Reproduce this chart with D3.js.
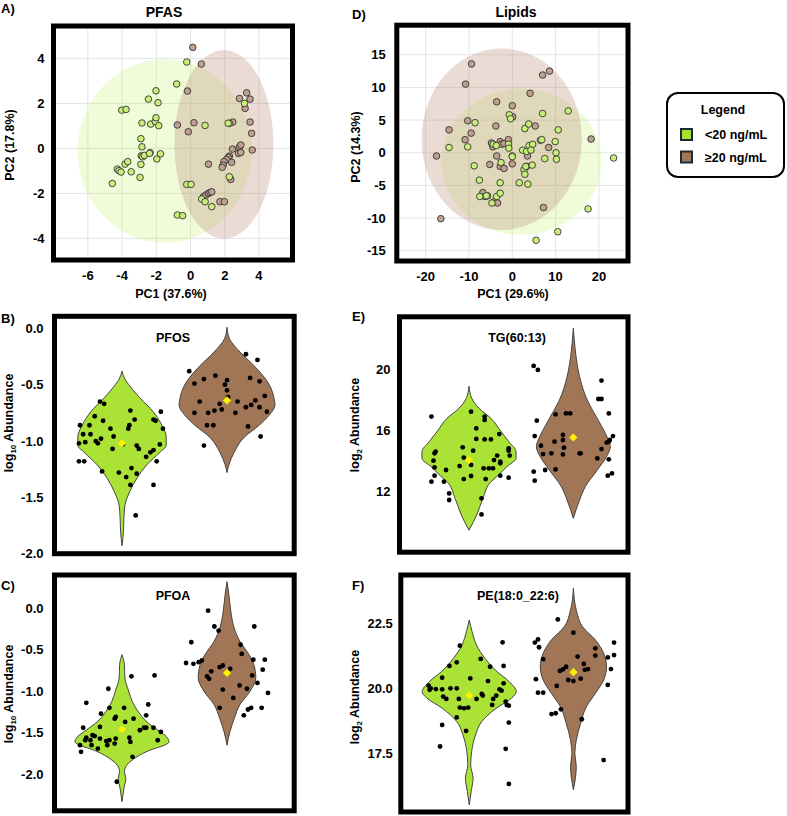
<!DOCTYPE html>
<html>
<head>
<meta charset="utf-8">
<script src="https://cdn.jsdelivr.net/npm/d3@7"></script>
<style>
body { margin: 0; background: #fff; }
text { font-family: "Liberation Sans", Arial, sans-serif; font-weight: bold; fill: #000; }
</style>
</head>
<body>
<div id="chart"></div>
<script>

// ---------- PCA data ----------
var groups = ['<20 ng/mL', '\u226520 ng/mL'];

var pfasTicksX = [-6, -4, -2, 0, 2, 4];
var pfasTicksY = [-4, -2, 0, 2, 4];
var pfasLow = [[-4.57,-1.56],[-4.28,-0.92],[-4.18,-0.99],[-4.06,-1.05],[-3.83,-0.70],[-3.67,-0.59],[-3.47,-1.04],
    [-4.02,1.70],[-3.77,1.73],[-2.95,-1.29],[-2.90,-0.71],[-2.90,0.43],[-2.84,0.07],[-2.88,-0.33],[-2.80,-0.37],
    [-2.70,-0.31],[-2.84,1.13],[-2.46,2.19],[-2.36,-0.19],[-2.33,1.08],[-2.40,-0.22],[-2.06,1.19],[-2.02,1.36],
    [-2.02,2.56],[-1.97,-0.47],[-1.90,2.03],[-1.86,1.01],[-1.76,-0.24],[-0.81,2.86],[-0.77,-2.96],[-0.46,-2.99],
    [-0.22,3.84],[-0.22,-1.60],[0.03,-1.60],[0.85,1.02],[0.65,-2.25],[0.85,-2.37],[1.24,-2.59],[2.27,1.11],
    [3.15,2.00],[2.27,-1.26],[2.20,1.12]];
var pfasHigh = [[0.13,4.49],[0.63,3.75],[-0.18,2.55],[-0.77,1.04],[-0.13,0.74],[0.20,1.14],[1.05,-0.70],[2.47,1.17],
    [2.86,2.22],[3.28,2.47],[3.48,2.19],[3.19,1.78],[3.48,1.17],[3.57,0.67],[3.61,-0.07],[2.45,-0.03],[2.86,0.07],
    [2.94,0.15],[2.80,-0.22],[2.94,-0.18],[2.27,-0.34],[2.21,-0.40],[2.11,-0.49],[1.95,-0.59],[1.91,-0.74],
    [1.85,-0.84],[2.40,-0.62],[2.35,-1.38],[1.72,-2.37],[1.98,-2.37],[0.75,-2.15],[0.90,-2.07],[1.04,-2.00],
    [1.14,-1.96],[1.24,-1.93]];
// ellipses: [cx, cy, rx, ry]
var pfasEllipseLow = [-1.51, -0.12, 5.09, 4.08];
var pfasEllipseHigh = [1.95, 0.18, 2.89, 4.19];

var lipidTicksX = [-20, -10, 0, 10, 20];
var lipidTicksY = [-15, -10, -5, 0, 5, 10, 15];
var lipidLow = [[-14.6,0.8],[-10.3,0.9],[-8.6,4.6],[-8.8,-2.0],[-7.6,-4.2],[-7.5,-6.7],[-5.7,-6.6],[-3.6,-6.7],
    [-2.8,-6.2],[-2.8,-4.6],[-4.4,1.3],[-0.9,1.3],[-0.7,5.8],[-0.4,5.2],[0.0,-0.6],[1.6,-4.6],[2.4,0.4],[2.7,-2.6],
    [2.9,-3.3],[3.1,-2.1],[3.3,0.2],[3.6,-4.8],[2.9,3.7],[3.8,4.4],[3.9,1.1],[4.6,-1.9],[4.7,1.3],[4.3,0.4],
    [6.5,1.9],[6.8,2.0],[7.0,6.0],[7.5,-0.9],[9.9,1.7],[10.1,0.0],[10.2,-1.0],[10.6,3.5],[12.9,6.4],[17.5,-8.6],
    [10.5,-12.1],[5.5,-13.4],[23.4,-0.8],[-0.8,0.7],[-2.6,-1.5],[-3.7,1.1],[-4.7,-7.7],[-6.0,-6.6]];
var lipidHigh = [[-17.5,-0.5],[-16.5,-10.1],[-14.6,3.5],[-10.8,10.5],[-9.4,13.6],[-10.9,2.0],[-9.5,3.0],[-10.3,4.9],
    [-3.6,7.8],[-3.8,4.1],[-3.6,-0.5],[-5.2,-1.8],[-4.8,1.5],[-4.5,0.9],[-2.8,1.7],[-2.5,1.3],[-1.9,1.4],[-4.2,-7.5],
    [-3.4,-7.7],[-6.8,-6.1],[-6.3,-6.7],[-2.8,-2.1],[-1.9,-2.4],[0.0,7.2],[0.1,5.5],[0.0,-1.7],[0.0,-0.5],[3.5,-0.5],
    [4.1,9.1],[5.3,4.1],[7.0,11.9],[8.6,12.5],[8.4,0.8],[7.2,-8.4],[18.2,2.1],[3.3,-2.1],[-0.9,2.0]];
var lipidEllipseLow = [2.08, -1.38, 18.5, 11.2];
var lipidEllipseHigh = [-2.45, 2.07, 18.5, 13.9];

// ---------- violin data ----------
// profiles: [value, relative density]; points: [group position with jitter, value]; means: [value low, value high]
var pfosTicks = [0.0, -0.5, -1.0, -1.5, -2.0];
var pfosProfileLow = [[-0.38,0],[-0.45,0.06],[-0.5,0.14],[-0.62,0.38],[-0.74,0.65],[-0.86,0.83],[-0.96,0.92],
    [-1.04,0.92],[-1.10,0.79],[-1.21,0.52],[-1.33,0.31],[-1.45,0.16],[-1.57,0.06],[-1.68,0.04],[-1.80,0.03],[-1.93,0]];
var pfosProfileHigh = [[0.01,0],[-0.09,0.05],[-0.21,0.27],[-0.33,0.56],[-0.41,0.73],[-0.5,0.88],[-0.62,0.98],
    [-0.68,1.0],[-0.77,0.88],[-0.86,0.67],[-0.97,0.35],[-1.1,0.15],[-1.21,0.04],[-1.28,0]];
var pfosPoints = [[0.59,-1.18],[0.64,-1.18],[0.79,-0.65],[0.83,-0.67],[0.74,-0.78],[0.82,-0.82],[0.60,-0.86],
    [0.69,-0.86],[0.89,-0.89],[0.63,-0.94],[0.70,-0.94],[0.75,-1.00],[0.77,-1.02],[0.65,-1.01],[0.59,-1.02],
    [0.80,-0.98],[0.92,-0.96],[0.91,-1.07],[0.81,-1.27],[0.97,-1.28],[1.04,-1.32],[1.09,-1.24],[1.14,-1.29],
    [1.08,-1.39],[1.13,-1.66],[1.06,-0.89],[1.07,-0.86],[1.08,-0.73],[1.12,-0.81],[1.14,-1.04],[1.16,-1.07],
    [1.01,-1.03],[1.23,-1.14],[1.27,-1.10],[1.30,-1.08],[1.33,-1.18],[1.36,-1.03],[1.30,-1.39],[1.30,-0.81],
    [1.32,-0.82],[1.37,-0.74],[1.39,-0.89],
    [1.64,-0.38],[1.69,-0.49],[1.78,-0.45],[1.89,-0.42],[1.74,-0.65],[1.69,-0.75],[1.82,-0.75],[1.88,-0.73],
    [1.95,-0.72],[1.93,-0.67],[1.81,-0.86],[1.87,-0.86],[1.78,-1.04],[1.98,-0.50],[2.00,-0.46],[2.00,-0.55],
    [2.01,-0.61],[2.08,-0.75],[2.10,-0.65],[2.18,-0.70],[2.23,-0.68],[2.27,-0.64],[2.31,-0.70],[2.36,-0.60],
    [2.38,-0.74],[2.31,-0.47],[2.22,-0.44],[2.18,-0.23],[2.29,-0.28],[2.20,-0.87],[2.32,-0.96]];
var pfosMeans = [-1.02, -0.64];

var pfoaTicks = [0.0, -0.5, -1.0, -1.5, -2.0];
var pfoaProfileLow = [[-0.56,0],[-0.68,0.05],[-0.84,0.06],[-1.0,0.14],[-1.12,0.21],[-1.24,0.33],[-1.37,0.52],
    [-1.47,0.75],[-1.55,0.93],[-1.61,0.98],[-1.65,0.88],[-1.71,0.58],[-1.79,0.31],[-1.89,0.10],[-1.97,0.05],
    [-2.05,0.08],[-2.17,0.04],[-2.33,0]];
var pfoaProfileHigh = [[0.32,0],[0.16,0.04],[-0.04,0.08],[-0.24,0.15],[-0.40,0.27],[-0.56,0.46],[-0.68,0.56],
    [-0.84,0.6],[-1.00,0.48],[-1.16,0.27],[-1.33,0.15],[-1.49,0.06],[-1.65,0]];
var pfoaPoints = [[0.60,-1.65],[0.61,-1.73],[0.63,-1.44],[0.66,-1.14],[0.66,-1.56],[0.65,-1.59],[0.70,-1.59],
    [0.72,-1.53],[0.74,-1.54],[0.71,-1.65],[0.77,-1.69],[0.79,-1.43],[0.79,-1.57],[0.80,-1.27],[0.85,-1.60],
    [0.86,-1.65],[0.87,-0.97],[0.88,-1.20],[0.88,-1.59],[0.93,-1.33],[0.93,-1.63],[0.94,-1.31],[0.94,-1.57],
    [0.95,-2.09],[1.02,-1.20],[1.03,-1.37],[1.07,-1.56],[1.08,-1.61],[1.09,-0.82],[1.10,-1.79],[1.11,-1.33],
    [1.17,-1.47],[1.21,-1.44],[1.23,-1.44],[1.25,-1.16],[1.23,-1.29],[1.31,-0.81],[1.30,-1.44],[1.34,-1.59],
    [1.37,-1.49],
    [1.61,-0.66],[1.66,-0.41],[1.68,-0.67],[1.73,-0.65],[1.76,-0.63],[1.81,-0.82],[1.82,-0.03],[1.83,-0.85],
    [1.85,-0.76],[1.88,-0.22],[1.92,-0.27],[1.93,-0.71],[1.96,-0.98],[1.96,-0.69],[1.93,-1.20],[2.03,-0.73],
    [2.06,-1.08],[2.12,-0.93],[2.13,-0.44],[2.14,-0.55],[2.16,-1.29],[2.19,-0.97],[2.20,-1.22],[2.23,-1.20],
    [2.24,-0.81],[2.25,-0.62],[2.26,-0.22],[2.29,-0.90],[2.33,-1.20],[2.34,-0.74],[2.36,-0.62],[2.39,-1.02]];
var pfoaMeans = [-1.46, -0.78];

var tgTicks = [12, 16, 20];
var tgProfileLow = [[18.9,0],[18.1,0.06],[17.46,0.21],[16.8,0.46],[15.93,0.67],[15.28,0.83],[14.63,0.98],
    [14.2,0.98],[13.65,0.79],[13.0,0.58],[12.67,0.46],[11.58,0.29],[10.49,0.16],[9.5,0]];
var tgProfileHigh = [[22.69,0],[21.27,0.04],[19.53,0.13],[18.0,0.29],[16.9,0.48],[15.8,0.67],[14.95,0.77],
    [14.3,0.69],[13.43,0.5],[12.34,0.25],[11.47,0.13],[10.27,0]];
var tgPoints = [[0.64,16.92],[0.64,12.67],[0.66,14.04],[0.67,14.52],[0.67,13.6],[0.67,13.06],[0.68,14.63],
    [0.76,12.67],[0.78,13.43],[0.81,11.9],[0.81,11.47],[0.91,13.69],[0.94,14.91],[0.95,14.24],[0.95,12.84],
    [1.02,17.24],[1.02,13.76],[1.02,13.04],[1.04,14.69],[1.07,15.46],[1.07,16.15],[1.12,11.58],[1.12,10.53],
    [1.14,13.54],[1.15,16.92],[1.15,16.70],[1.15,15.43],[1.16,12.84],[1.19,13.54],[1.21,15.43],[1.23,13.54],
    [1.24,14.08],[1.27,14.37],[1.29,15.78],[1.30,13.06],[1.30,13.97],[1.30,13.87],[1.38,14.85],[1.38,14.69],
    [1.38,12.93],[1.39,14.37],
    [1.62,20.23],[1.66,19.97],[1.65,16.65],[1.63,15.65],[1.62,13.32],[1.63,12.73],[1.69,15.02],[1.71,14.47],
    [1.73,13.43],[1.79,14.52],[1.83,17.07],[1.82,15.28],[1.83,13.47],[1.90,15.39],[1.90,15.72],[1.91,14.89],
    [1.90,14.45],[1.93,17.13],[1.97,17.13],[2.06,14.52],[2.07,14.52],[2.24,18.07],[2.27,18.07],[2.27,19.27],
    [2.23,14.19],[2.27,14.80],[2.32,15.22],[2.34,15.28],[2.35,15.39],[2.38,15.65],[2.34,14.13],[2.33,13.06],
    [2.37,13.21],[2.34,17.13]];
var tgMeans = [14.08, 15.56];

var peTicks = [17.5, 20.0, 22.5];
var peProfileLow = [[22.63,0],[22.18,0.06],[21.67,0.15],[21.15,0.33],[20.64,0.58],[20.26,0.83],[19.87,0.98],
    [19.62,0.88],[19.23,0.56],[18.72,0.26],[18.2,0.13],[17.56,0.05],[17.05,0.03],[16.54,0.08],[16.03,0.04],[15.51,0]];
var peProfileHigh = [[23.85,0],[23.01,0.06],[22.37,0.19],[21.86,0.46],[21.35,0.63],[20.83,0.69],[20.32,0.63],
    [19.81,0.46],[19.29,0.27],[18.65,0.15],[18.0,0.06],[17.5,0.03],[16.99,0.06],[16.09,0]];
var pePoints = [[0.62,19.94],[0.63,20.0],[0.61,20.1],[0.72,17.76],[0.74,18.59],[0.74,20.41],[0.74,19.96],
    [0.75,19.68],[0.78,19.59],[0.81,20.86],[0.82,20.0],[0.88,21.0],[0.88,20.0],[0.88,18.88],[0.90,19.59],
    [0.91,21.64],[0.91,19.26],[0.95,19.23],[0.97,18.36],[0.99,19.26],[1.01,20.38],[1.07,19.59],[1.11,21.13],
    [1.12,19.78],[1.13,19.72],[1.18,20.28],[1.20,20.83],[1.22,19.36],[1.23,19.59],[1.26,19.72],[1.29,19.96],
    [1.31,19.91],[1.32,21.77],[1.33,20.86],[1.33,20.19],[1.35,19.49],[1.35,17.67],[1.36,19.36],[1.38,19.33],
    [1.38,18.68],[1.38,16.32],[0.68,19.97],
    [1.63,21.76],[1.66,21.88],[1.67,21.58],[1.64,20.35],[1.66,19.83],[1.71,19.83],[1.71,21.12],[1.79,19.01],
    [1.83,19.04],[1.85,22.65],[1.84,20.09],[1.87,20.67],[1.90,20.73],[1.93,20.83],[1.88,19.19],[1.95,20.32],
    [2.00,20.28],[2.00,22.14],[2.04,21.22],[2.07,20.37],[2.10,20.94],[2.11,20.71],[2.14,20.74],[2.08,18.81],
    [2.21,21.54],[2.21,21.26],[2.33,21.19],[2.33,20.13],[2.36,20.74],[2.39,21.76],[2.39,21.28],[2.29,17.24]];
var peMeans = [19.73, 20.62];

// ---------- styles ----------
var pcaFill = ['#c8ee7a', '#bf9f8f'];
var ellipseFill = ['#b4eb46', '#b98770'];
var violinFill = ['#aae236', '#a07656'];
var legendFill = ['#a8e030', '#a07858'];

var svg = d3.select('#chart')
    .append('svg')
    .attr('width', 787)
    .attr('height', 816);

function addText(x, y, str, size, anchor) {
    return svg.append('text')
        .attr('x', x).attr('y', y)
        .attr('text-anchor', anchor || 'start')
        .style('font-size', size + 'px')
        .text(str);
}

function drawPCA(cfg) {
    var box = cfg.box;
    var x = d3.scaleLinear().domain(cfg.xDomain).range([box.x0, box.x1]);
    var y = d3.scaleLinear().domain(cfg.yDomain).range([box.y1, box.y0]);
    var g = svg.append('g');

    // Grid
    g.selectAll('.vgrid').data(cfg.xTicks).enter().append('line')
        .attr('x1', d => x(d)).attr('x2', d => x(d))
        .attr('y1', box.y0).attr('y2', box.y1)
        .attr('stroke', '#e4e4e4').attr('stroke-width', 1);
    g.selectAll('.hgrid').data(cfg.yTicks).enter().append('line')
        .attr('y1', d => y(d)).attr('y2', d => y(d))
        .attr('x1', box.x0).attr('x2', box.x1)
        .attr('stroke', '#e4e4e4').attr('stroke-width', 1);

    // Ellipses
    var angles = d3.range(0, 361, 4).map(a => a * Math.PI / 180);
    var line = d3.line().x(d => d[0]).y(d => d[1]);
    cfg.ellipses.forEach(function (e, i) {
        var pts = angles.map(t => [x(e[0] + e[2] * Math.cos(t)), y(e[1] + e[3] * Math.sin(t))]);
        g.append('path')
            .attr('d', line(pts) + 'Z')
            .attr('fill', ellipseFill[i])
            .attr('fill-opacity', i === 0 ? 0.2 : 0.3);
    });

    // Points: high group first, low group on top
    [cfg.high, cfg.low].forEach(function (pts, k) {
        g.selectAll(null).data(pts).enter().append('circle')
            .attr('cx', d => x(d[0]))
            .attr('cy', d => y(d[1]))
            .attr('r', 3.3)
            .attr('fill', pcaFill[1 - k])
            .attr('stroke', '#333')
            .attr('stroke-width', 0.9);
    });

    // Frame
    g.append('rect')
        .attr('x', box.x0).attr('y', box.y0)
        .attr('width', box.x1 - box.x0).attr('height', box.y1 - box.y0)
        .attr('fill', 'none').attr('stroke', '#000').attr('stroke-width', 5);

    // Tick labels
    g.selectAll('.xt').data(cfg.xTicks).enter().append('text')
        .attr('x', d => x(d)).attr('y', box.y1 + 20)
        .attr('text-anchor', 'middle').style('font-size', '13px')
        .text(d => String(d));
    g.selectAll('.yt').data(cfg.yTicks).enter().append('text')
        .attr('x', box.x0 - cfg.tickPad).attr('y', d => y(d)).attr('dy', '0.35em')
        .attr('text-anchor', 'end').style('font-size', '13px')
        .text(d => String(d));

    addText(cfg.titleX, 16.7, cfg.title, 14, 'middle');
    addText(cfg.xLabelX, 298, cfg.xLabel, 12.5, 'middle');
    svg.append('text')
        .attr('transform', 'translate(' + cfg.yLabelX + ',' + cfg.yLabelY + ') rotate(-90)')
        .attr('text-anchor', 'middle').style('font-size', '12.5px')
        .text(cfg.yLabel);
    addText(cfg.letterX, cfg.letterY, cfg.letter, 13, 'start');
}

function drawViolin(cfg) {
    var box = cfg.box;
    var x = d3.scaleLinear().domain(cfg.xDomain).range([box.x0, box.x1]);
    var y = d3.scaleLinear().domain(cfg.yDomain).range([box.y1, box.y0]);
    var w = d3.scaleLinear().domain([0, 1]).range([0, 48]);
    var g = svg.append('g');

    // Violins
    [cfg.profileLow, cfg.profileHigh].forEach(function (prof, i) {
        var cx = x(i + 1);
        var area = d3.area()
            .curve(d3.curveMonotoneY)
            .y(d => y(d[0]))
            .x0(d => cx - w(d[1]))
            .x1(d => cx + w(d[1]));
        g.append('path')
            .attr('d', area(prof))
            .attr('fill', violinFill[i])
            .attr('stroke', '#444')
            .attr('stroke-width', 1);
    });

    // Points
    g.selectAll(null).data(cfg.points).enter().append('circle')
        .attr('cx', d => x(d[0]))
        .attr('cy', d => y(d[1]))
        .attr('r', 2.4)
        .attr('fill', '#000');

    // Means
    g.selectAll(null).data(cfg.means).enter().append('path')
        .attr('d', d3.symbol().type(d3.symbolSquare).size(34))
        .attr('transform', (d, i) => 'translate(' + x(i + 1) + ',' + y(d) + ') rotate(45)')
        .attr('fill', '#ffee00');

    // Frame
    g.append('rect')
        .attr('x', box.x0).attr('y', box.y0)
        .attr('width', box.x1 - box.x0).attr('height', box.y1 - box.y0)
        .attr('fill', 'none').attr('stroke', '#000').attr('stroke-width', 5);

    // Ticks
    g.selectAll('.yt').data(cfg.ticks).enter().append('text')
        .attr('x', box.x0 - cfg.tickPad).attr('y', d => y(d)).attr('dy', '0.35em')
        .attr('text-anchor', 'end').style('font-size', '13px')
        .text(d => d.toFixed(cfg.digits));

    addText(cfg.titleX, cfg.titleY, cfg.title, 12.5, 'middle');
    var lab = svg.append('text')
        .attr('transform', 'translate(' + cfg.yLabelX + ',' + cfg.yLabelY + ') rotate(-90)')
        .attr('text-anchor', 'middle').style('font-size', '12.5px');
    lab.append('tspan').text('log');
    lab.append('tspan').attr('dy', 3).style('font-size', '8px').text(cfg.base);
    lab.append('tspan').attr('dy', -3).text(' Abundance');
    addText(cfg.letterX, cfg.letterY, cfg.letter, 13, 'start');
}

drawPCA({
    box: {x0: 53.5, x1: 292.5, y0: 26, y1: 260},
    xDomain: [-8.01, 5.96], yDomain: [-4.96, 5.44],
    xTicks: pfasTicksX, yTicks: pfasTicksY,
    low: pfasLow, high: pfasHigh,
    ellipses: [pfasEllipseLow, pfasEllipseHigh],
    tickPad: 9,
    title: 'PFAS', titleX: 164,
    xLabel: 'PC1 (37.6%)', xLabelX: 171,
    yLabel: 'PC2 (17.8%)', yLabelX: 14, yLabelY: 145,
    letter: 'A)', letterX: 1, letterY: 12.5
});

drawPCA({
    box: {x0: 396.8, x1: 628, y0: 25.2, y1: 261},
    xDomain: [-26.67, 26.72], yDomain: [-16.58, 19.53],
    xTicks: lipidTicksX, yTicks: lipidTicksY,
    low: lipidLow, high: lipidHigh,
    ellipses: [lipidEllipseLow, lipidEllipseHigh],
    tickPad: 11,
    title: 'Lipids', titleX: 516,
    xLabel: 'PC1 (29.6%)', xLabelX: 513,
    yLabel: 'PC2 (14.3%)', yLabelX: 360, yLabelY: 147,
    letter: 'D)', letterX: 352, letterY: 19
});

drawViolin({
    box: {x0: 54.5, x1: 294.2, y0: 316.3, y1: 553.7},
    xDomain: [0.357, 2.64], yDomain: [-2.0, 0.107],
    profileLow: pfosProfileLow, profileHigh: pfosProfileHigh,
    points: pfosPoints, means: pfosMeans,
    ticks: pfosTicks, digits: 1, tickPad: 11,
    title: 'PFOS', titleX: 173, titleY: 342,
    base: '10', yLabelX: 13, yLabelY: 423,
    letter: 'B)', letterX: 1, letterY: 323
});

drawViolin({
    box: {x0: 54.5, x1: 294.2, y0: 575, y1: 810.8},
    xDomain: [0.357, 2.64], yDomain: [-2.44, 0.40],
    profileLow: pfoaProfileLow, profileHigh: pfoaProfileHigh,
    points: pfoaPoints, means: pfoaMeans,
    ticks: pfoaTicks, digits: 1, tickPad: 11,
    title: 'PFOA', titleX: 173, titleY: 600,
    base: '10', yLabelX: 13, yLabelY: 694,
    letter: 'C)', letterX: 1, letterY: 590
});

drawViolin({
    box: {x0: 399.5, x1: 628, y0: 316.8, y1: 552.2},
    xDomain: [0.334, 2.524], yDomain: [8.06, 23.44],
    profileLow: tgProfileLow, profileHigh: tgProfileHigh,
    points: tgPoints, means: tgMeans,
    ticks: tgTicks, digits: 0, tickPad: 9,
    title: 'TG(60:13)', titleX: 517, titleY: 342,
    base: '2', yLabelX: 359, yLabelY: 425,
    letter: 'E)', letterX: 352, letterY: 321
});

drawViolin({
    box: {x0: 400.8, x1: 628, y0: 575, y1: 812},
    xDomain: [0.343, 2.524], yDomain: [15.24, 24.36],
    profileLow: peProfileLow, profileHigh: peProfileHigh,
    points: pePoints, means: peMeans,
    ticks: peTicks, digits: 1, tickPad: 8,
    title: 'PE(18:0_22:6)', titleX: 518, titleY: 600,
    base: '2', yLabelX: 359, yLabelY: 697,
    letter: 'F)', letterX: 352, letterY: 590
});

// Legend
var legend = svg.append('g');
legend.append('rect')
    .attr('x', 667).attr('y', 93).attr('width', 117).attr('height', 84)
    .attr('rx', 11).attr('fill', '#fff').attr('stroke', '#000').attr('stroke-width', 2);
legend.append('text')
    .attr('x', 723).attr('y', 114).attr('text-anchor', 'middle')
    .style('font-size', '12.5px').text('Legend');
legend.selectAll('.sw').data(groups).enter().append('rect')
    .attr('x', 681).attr('y', (d, i) => 129 + i * 22.5)
    .attr('width', 11).attr('height', 11)
    .attr('fill', (d, i) => legendFill[i])
    .attr('stroke', '#1c2b3a').attr('stroke-width', 2);
legend.selectAll('.lt').data(groups).enter().append('text')
    .attr('x', 705).attr('y', (d, i) => 139 + i * 22.5)
    .style('font-size', '12.5px').text(d => d);

</script>
</body>
</html>
